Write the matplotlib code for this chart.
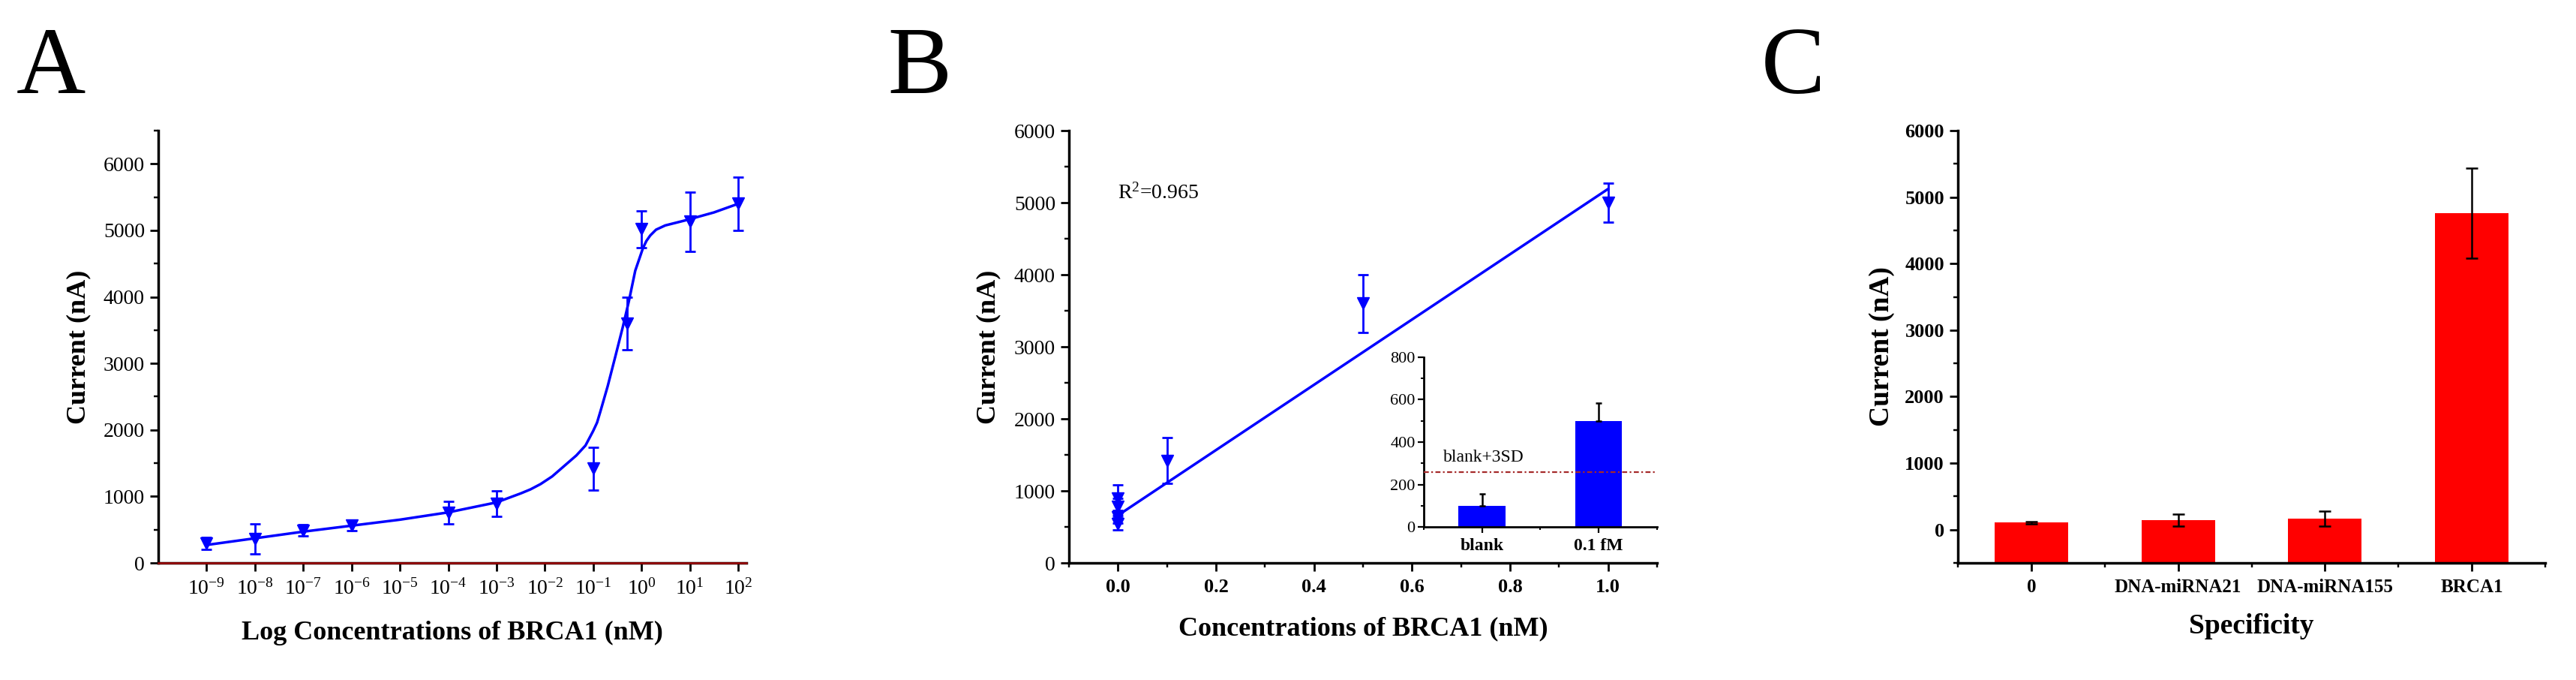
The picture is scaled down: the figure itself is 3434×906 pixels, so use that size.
import numpy as np
import matplotlib
matplotlib.use("Agg")
import matplotlib.pyplot as plt
from matplotlib.ticker import FixedLocator, MultipleLocator, NullLocator, LogFormatterMathtext

plt.rcParams['font.family'] = ['Liberation Serif', 'DejaVu Serif']
plt.rcParams['mathtext.fontset'] = 'custom'
plt.rcParams['mathtext.rm'] = 'Liberation Serif'
plt.rcParams['mathtext.it'] = 'Liberation Serif:italic'
plt.rcParams['mathtext.bf'] = 'Liberation Serif:bold'

# ---- panel A: log concentration response ----
conc_a = [1e-9, 1e-8, 1e-7, 1e-6, 1e-4, 1e-3, 1e-1, 0.5, 1, 10, 100]
cur_a = [290, 360, 490, 560, 760, 890, 1420, 3600, 5020, 5130, 5400]
err_a = [90, 230, 85, 70, 170, 190, 320, 390, 275, 445, 400]
# fitted curve (log10 of concentration, current)
fit_logc_a = [-9, -8, -7, -6, -5, -4, -3, -2.5, -2.3, -2.09, -1.85, -1.58, -1.35,
              -1.16, -1.0, -0.92, -0.85, -0.70, -0.54, -0.39, -0.26, -0.13, 0.03,
              0.1, 0.18, 0.3, 0.49, 0.9, 1.5, 2.0]
fit_cur_a = [270, 370, 470, 560, 650, 760, 910, 1045, 1105, 1185, 1300, 1470, 1615,
             1765, 1985, 2110, 2280, 2658, 3110, 3540, 3941, 4394, 4734,
             4840, 4923, 5010, 5074, 5149, 5270, 5400]
ticks_logc_a = [-9, -8, -7, -6, -5, -4, -3, -2, -1, 0, 1, 2]

# ---- panel B: linear range ----
conc_b = [0, 0, 0, 0, 0.1, 0.5, 1.0]
cur_b = [900, 780, 640, 540, 1420, 3600, 5000]
err_b = [180, 120, 90, 80, 320, 400, 270]
fit_conc_b = [0.0, 1.0]
fit_cur_b = [660, 5190]
r2_b = 0.965

inset_labels = ['blank', '0.1 fM']
inset_vals = [100, 500]
inset_err = [55, 83]
blank_3sd = 260

# ---- panel C: specificity ----
spec_labels = ['0', 'DNA-miRNA21', 'DNA-miRNA155', 'BRCA1']
spec_vals = [105, 140, 165, 4760]
spec_err = [20, 90, 115, 680]

W, H = 3434, 906
fig = plt.figure(figsize=(W / 100, H / 100), dpi=100)


def px_axes(left, top, right, bottom):
    return fig.add_axes([left / W, 1 - bottom / H, (right - left) / W, (bottom - top) / H])


def style(ax, lw=2.5):
    for s in ['top', 'right']:
        ax.spines[s].set_visible(False)
    for s in ['left', 'bottom']:
        ax.spines[s].set_linewidth(lw)
    ax.tick_params(which='major', direction='out', length=8, width=lw * 0.8, pad=5)
    ax.tick_params(which='minor', direction='out', length=4, width=lw * 0.7)


def labels(ax, xl, yl, xy, yx, size=26):
    ax.set_xlabel(xl, fontsize=size, fontweight='bold', va='center')
    ax.set_ylabel(yl, fontsize=size, fontweight='bold', va='center')
    ax.xaxis.set_label_coords(0.5, xy)
    ax.yaxis.set_label_coords(yx, 0.5)


blue = '#0000FF'

# A
axA = px_axes(211, 174, 995, 750)
style(axA)
axA.set_xscale('log')
axA.plot(10.0 ** np.array(fit_logc_a), fit_cur_a, color=blue, lw=2.5, zorder=3)
axA.errorbar(conc_a, cur_a, yerr=err_a, fmt='v', color=blue, ms=11,
             capsize=5, elinewidth=2, capthick=2, zorder=4)
axA.axhline(0, color='#A00000', lw=1.8, zorder=3, clip_on=False)
axA.set_xlim(1e-10, 10 ** 2.17)
axA.set_ylim(0, 6500)
axA.xaxis.set_major_locator(FixedLocator(10.0 ** np.array(ticks_logc_a)))
axA.xaxis.set_major_formatter(LogFormatterMathtext())
axA.xaxis.set_minor_locator(NullLocator())
axA.yaxis.set_major_locator(FixedLocator(np.arange(0, 6001, 1000)))
axA.yaxis.set_minor_locator(MultipleLocator(500))
axA.tick_params(axis='y', labelsize=20)
axA.tick_params(axis='x', labelsize=20, pad=7)
labels(axA, 'Log Concentrations of BRCA1 (nM)', 'Current (nA)', -0.163, -0.135)

# B
axB = px_axes(1425, 174, 2209, 750)
style(axB)
axB.plot(fit_conc_b, fit_cur_b, color=blue, lw=2.5, zorder=3)
axB.errorbar(conc_b, cur_b, yerr=err_b, fmt='v', color=blue, ms=11,
             capsize=5, elinewidth=2, capthick=2, zorder=4)
axB.set_xlim(-0.1, 1.1)
axB.set_ylim(0, 6000)
axB.xaxis.set_major_locator(MultipleLocator(0.2))
axB.xaxis.set_minor_locator(MultipleLocator(0.1))
axB.yaxis.set_major_locator(MultipleLocator(1000))
axB.yaxis.set_minor_locator(MultipleLocator(500))
axB.xaxis.set_major_formatter(plt.FormatStrFormatter('%.1f'))
axB.tick_params(axis='y', labelsize=20)
axB.tick_params(axis='x', labelsize=19, pad=7)
for t in axB.get_xticklabels():
    t.set_fontweight('bold')
axB.text(0.0, 5130, f'R$\\mathregular{{^2}}$={r2_b}', fontsize=20, va='center', ha='left')
labels(axB, 'Concentrations of BRCA1 (nM)', 'Current (nA)', -0.153, -0.1365)

ins = axB.inset_axes([0.603, 0.083, 0.397, 0.393])
style(ins, lw=2)
xi = np.arange(len(inset_labels))
ins.bar(xi, inset_vals, width=0.4, color=blue, zorder=2)
ins.errorbar(xi, inset_vals, yerr=[[0] * len(inset_err), inset_err], fmt='none',
             ecolor='black', elinewidth=1.8, capsize=3, capthick=1.8, zorder=3)
ins.axhline(blank_3sd, color='#A52A2A', lw=1.6, ls=(0, (3, 1.5, 1, 1.5)), zorder=4)
ins.text(-0.33, 327, 'blank+3SD', fontsize=17, va='center', ha='left')
ins.set_xlim(-0.5, 1.5)
ins.set_ylim(0, 800)
ins.set_xticks(xi)
ins.set_xticklabels(inset_labels, fontsize=17, fontweight='bold')
ins.xaxis.set_minor_locator(FixedLocator([-0.5, 0.5, 1.5]))
ins.yaxis.set_major_locator(MultipleLocator(200))
ins.yaxis.set_minor_locator(MultipleLocator(100))
ins.tick_params(axis='y', labelsize=16, pad=2)
ins.tick_params(which='major', length=6)
ins.tick_params(which='minor', length=3)

# C
axC = px_axes(2610, 174, 3393, 750)
style(axC)
xc = np.arange(len(spec_labels))
ymin_c = -500
axC.bar(xc, np.array(spec_vals) - ymin_c, bottom=ymin_c, width=0.5, color='#FF0000', zorder=2)
axC.errorbar(xc, spec_vals, yerr=spec_err, fmt='none', ecolor='black',
             elinewidth=1.8, capsize=6, capthick=1.8, zorder=3)
axC.set_xlim(-0.5, len(spec_labels) - 0.5)
axC.set_ylim(ymin_c, 6000)
axC.set_xticks(xc)
axC.set_xticklabels(spec_labels, fontsize=18, fontweight='bold')
axC.xaxis.set_minor_locator(FixedLocator(np.arange(-0.5, len(spec_labels), 1.0)))
axC.yaxis.set_major_locator(FixedLocator(np.arange(0, 6001, 1000)))
axC.yaxis.set_minor_locator(FixedLocator(np.arange(-500, 6000, 1000)))
axC.tick_params(axis='y', labelsize=19)
axC.tick_params(axis='x', pad=7)
for t in axC.get_yticklabels():
    t.set_fontweight('bold')
labels(axC, 'Specificity', 'Current (nA)', -0.146, -0.130, size=27)

for letter, x in [('A', 22), ('B', 1183), ('C', 2348)]:
    fig.text(x / W, 1 - 124 / H, letter, fontsize=92, va='baseline', ha='left')

fig.savefig('out.png', dpi=100)
